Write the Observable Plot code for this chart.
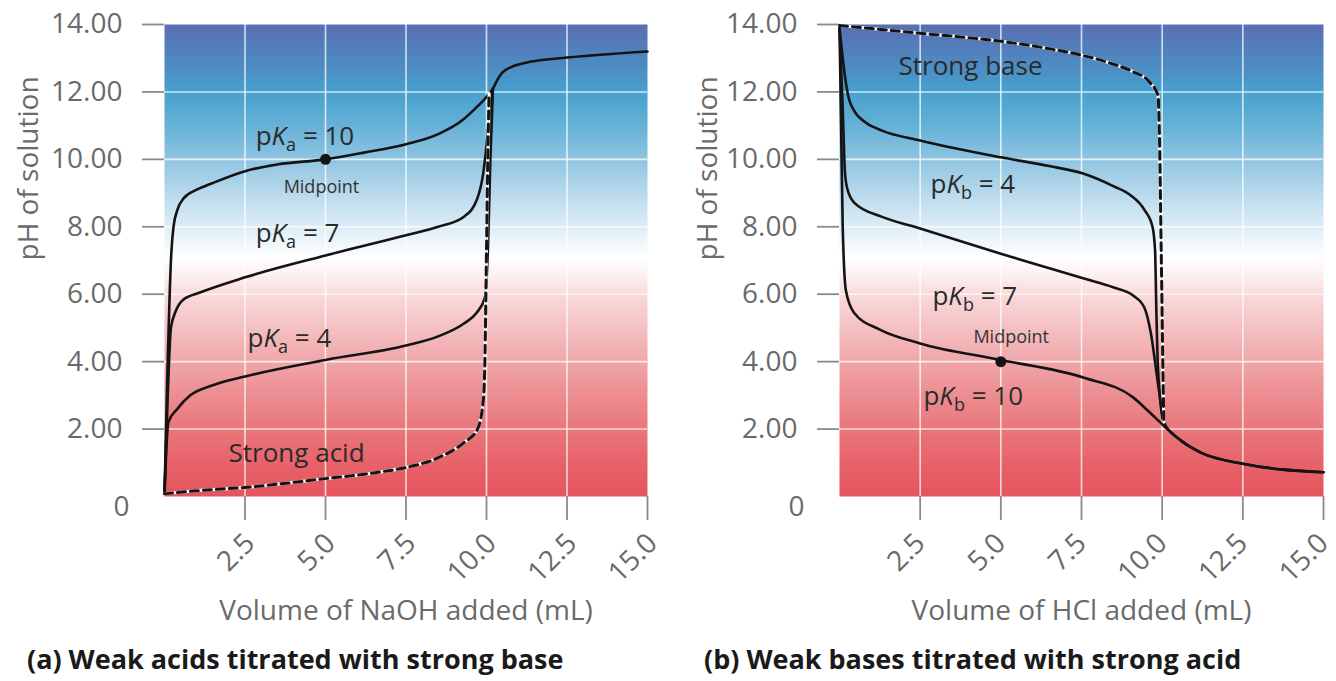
<!DOCTYPE html>
<html>
<head>
<meta charset="utf-8">
<script src="https://cdn.jsdelivr.net/npm/d3@7"></script>
<script src="https://cdn.jsdelivr.net/npm/@observablehq/plot@0.6"></script>
<style>
  html, body { margin: 0; padding: 0; background: #fff; }
  #wrap { position: relative; width: 1336px; height: 681px; overflow: hidden; font-family: "Open Sans", sans-serif; }
  .panel { position: absolute; top: 0; width: 668px; height: 681px; }
  .caption { position: absolute; top: 645px; font-weight: 700; font-size: 27px; line-height: 27px; color: #1a1a1a; white-space: nowrap; }
</style>
</head>
<body>
<div id="wrap">
  <div class="panel" id="panelA"><div class="caption" style="left:27px">(a) Weak acids titrated with strong base</div></div>
  <div class="panel" id="panelB" style="left:668px"><div class="caption" style="left:36px">(b) Weak bases titrated with strong acid</div></div>
</div>
<script>
// ---------- data ----------
const xTicks = [2.5, 5.0, 7.5, 10.0, 12.5, 15.0];
const yTicks = [2, 4, 6, 8, 10, 12, 14];
const originLabel = ["0"];

// background pH colour stops [pH, colour]
const bgStops = [
  [14, "#5a6db3"], [13, "#4f86c0"], [12, "#47a0cd"], [11, "#66b1d7"], [10, "#8fc4e1"],
  [9, "#b8d9ec"], [8, "#ddedf6"], [7.1, "#ffffff"], [6.6, "#fdf1f1"], [6, "#f9dadb"],
  [5, "#f4c0c2"], [4, "#f0a6a9"], [3, "#ec8d91"], [2, "#e9767b"], [1, "#e76369"], [0, "#e5545c"]
];

// (a) weak acids titrated with strong base: [mL NaOH, pH]
const acidPKa10 = [[0,0.1],[0.1,4],[0.2,7.0],[0.28,8.0],[0.4,8.5],[0.6,8.85],[1.0,9.1],[1.5,9.3],[2.5,9.65],[3.5,9.85],[5,10.0],[6.2,10.2],[7.5,10.45],[8.5,10.75],[9.3,11.2],[9.75,11.6],[10.0,11.85],[10.2,12.1],[10.35,12.38],[10.5,12.58],[10.8,12.75],[11.4,12.9],[12.5,13.02],[15,13.2]];
const acidPKa7  = [[0,0.1],[0.1,3.0],[0.2,5.0],[0.35,5.5],[0.6,5.85],[1.1,6.05],[2.5,6.5],[5,7.15],[7.5,7.75],[8.5,8.0],[9.3,8.3],[9.7,8.8],[9.9,9.6],[10.0,10.4],[10.1,11.4],[10.2,12.1]];
const acidPKa4  = [[0,0.1],[0.12,2.2],[0.4,2.6],[0.8,3.0],[1.5,3.3],[2.5,3.56],[5,4.05],[7.5,4.48],[8.5,4.75],[9.3,5.13],[9.7,5.46],[9.95,5.9],[10.05,7.5],[10.12,10],[10.2,12.1]];
const strongAcid = [[0,0.08],[1,0.17],[2.5,0.27],[5,0.53],[6.5,0.7],[7.5,0.86],[8.5,1.15],[9.3,1.6],[9.72,2.0],[9.9,2.85],[9.95,4.0],[10.0,7.3],[10.04,10],[10.08,11.95]];

// (b) weak bases titrated with strong acid: [mL HCl, pH]
const basePKb4  = [[0,13.9],[0.1,13.0],[0.15,12.6],[0.28,11.84],[0.45,11.45],[0.8,11.1],[1.3,10.86],[2.5,10.56],[5,10.06],[6.5,9.8],[7.55,9.58],[8.5,9.2],[9.0,8.95],[9.45,8.5],[9.7,8.0],[9.78,7.3],[9.82,5.5],[9.87,3.8],[10.05,2.2],[10.5,1.72],[11.2,1.3],[12.5,0.97],[15,0.72]];
const basePKb7  = [[0,13.9],[0.1,11.5],[0.17,9.6],[0.25,9.1],[0.47,8.7],[1.3,8.3],[2.5,7.95],[5,7.2],[7.55,6.47],[8.5,6.2],[9.1,5.96],[9.45,5.6],[9.65,4.84],[9.87,3.35],[10.05,2.17]];
const basePKb10 = [[0,13.9],[0.05,11],[0.1,8],[0.2,6.1],[0.45,5.45],[1.25,4.95],[2.5,4.54],[5,4.05],[7.55,3.53],[9.1,2.94],[9.65,2.46],[10.05,2.1],[10.5,1.72],[11.2,1.3],[12.5,0.97],[15,0.72]];
const strongBase = [[0,13.97],[1,13.88],[2.5,13.74],[5,13.5],[6.5,13.28],[7.55,13.08],[8.5,12.82],[9.1,12.6],[9.6,12.3],[9.87,11.9],[9.92,10.5],[9.97,7.3],[10.02,4],[10.05,2.2]];

// annotations [mL, pH, text]
const acidLabels = [[2.83,10.67,"pKa = 10"],[2.83,7.79,"pKa = 7"],[2.58,4.67,"pKa = 4"]];
const acidNotes  = [[1.99,1.26,"Strong acid"]];
const baseLabels = [[2.82,9.24,"pKb = 4"],[2.88,5.92,"pKb = 7"],[2.6,2.95,"pKb = 10"]];
const baseNotes  = [[1.83,12.74,"Strong base"]];
const acidMidpoint = [[5,10]];
const baseMidpoint = [[5,4.0]];
const acidMidText = [[3.7,9.17,"Midpoint"]];
const baseMidText = [[4.15,4.72,"Midpoint"]];

// ---------- drawing ----------
function gradientMark(id) {
  return (index, scales) => {
    const ns = "http://www.w3.org/2000/svg";
    const defs = document.createElementNS(ns, "defs");
    const lg = document.createElementNS(ns, "linearGradient");
    lg.setAttribute("id", id);
    lg.setAttribute("gradientUnits", "userSpaceOnUse");
    const y0 = scales.y(14), y1 = scales.y(0);
    lg.setAttribute("x1", 0); lg.setAttribute("x2", 0);
    lg.setAttribute("y1", y0); lg.setAttribute("y2", y1);
    for (const [ph, c] of bgStops) {
      const s = document.createElementNS(ns, "stop");
      s.setAttribute("offset", (scales.y(ph) - y0) / (y1 - y0));
      s.setAttribute("stop-color", c);
      lg.appendChild(s);
    }
    defs.appendChild(lg);
    return defs;
  };
}

const P = d => d[0], Q = d => d[1], T = d => d[2];

function panel({id, marginLeft, marginRight, solid, dashed, labels, notes, mid, midText, xLabel, yDx, tickDx}) {
  const svg = Plot.plot({
    width: 668, height: 640,
    marginLeft, marginRight, marginTop: 24, marginBottom: 144,
    x: {domain: [0, 15]},
    y: {domain: [0, 14]},
    style: {fontFamily: "'Open Sans', sans-serif", fontSize: "28px", background: "transparent", overflow: "visible"},
    marks: [
      gradientMark(id),
      Plot.frame({fill: `url(#${id})`, stroke: null}),
      Plot.gridX(xTicks.filter(d => d < 15), {stroke: "white", strokeOpacity: 0.75, strokeWidth: 1.6}),
      Plot.gridY(yTicks.filter(d => d < 14), {stroke: "white", strokeOpacity: 0.75, strokeWidth: 1.6}),
      Plot.axisX(xTicks, {tickSize: 24, tickFormat: () => "", label: null, stroke: "#8a8a8a", strokeWidth: 1.8}),
      Plot.axisX(xTicks, {tickSize: 0, tickPadding: 42, dx: tickDx, tickRotate: -45, tickFormat: d => d.toFixed(1), label: null, fill: "#6a6a6a"}),
      Plot.axisY(yTicks, {tickSize: 22, tickPadding: 20, tickFormat: d => d.toFixed(2), label: null, stroke: "#8a8a8a", strokeWidth: 1.8, fill: "#6a6a6a"}),
      Plot.text(originLabel, {x: () => 0, y: () => 0, text: d => d, dx: -43, dy: 11, fill: "#6a6a6a"}),
      Plot.text([xLabel], {frameAnchor: "bottom", dy: 123, text: d => d, fill: "#6a6a6a"}),
      Plot.text(["pH of solution"], {frameAnchor: "left", dx: yDx, rotate: -90, text: d => d, fill: "#6a6a6a"}),
      ...solid.map(s => Plot.line(s, {x: P, y: Q, stroke: "#141414", strokeWidth: 2.6, curve: "monotone-x"})),
      Plot.line(dashed, {x: P, y: Q, stroke: "white", strokeWidth: 3, curve: "monotone-x"}),
      Plot.line(dashed, {x: P, y: Q, stroke: "#141414", strokeWidth: 3, strokeDasharray: "8,5", curve: "monotone-x"}),
      Plot.dot(mid, {x: P, y: Q, r: 5.5, fill: "#141414"}),
      Plot.text(midText, {x: P, y: Q, text: T, textAnchor: "start", fontSize: 18, fill: "#333"}),
      Plot.text(notes, {x: P, y: Q, text: T, textAnchor: "start", fontSize: 26, fill: "#2a2a2a"}),
      Plot.text(labels, {x: P, y: Q, text: T, textAnchor: "start", fontSize: 26, fill: "#2a2a2a"})
    ]
  });
  // p K_a style: italic K, subscript letter
  d3.select(svg).selectAll("text").each(function () {
    if (this.querySelector("tspan")) return;
    const t = this.textContent;
    const m = t.match(/^p(K)([ab])( = \d+)$/);
    if (!m) return;
    const sel = d3.select(this);
    sel.text("");
    sel.append("tspan").text("p");
    sel.append("tspan").attr("font-style", "italic").text(m[1]);
    sel.append("tspan").attr("font-size", "18px").attr("dy", "0.3em").text(m[2]);
    sel.append("tspan").attr("dy", "-0.21em").text(m[3]);
  });
  return svg;
}

document.getElementById("panelA").prepend(panel({
  id: "gradA", marginLeft: 164, marginRight: 21,
  solid: [acidPKa10, acidPKa7, acidPKa4], dashed: strongAcid,
  labels: acidLabels, notes: acidNotes, mid: acidMidpoint, midText: acidMidText,
  xLabel: "Volume of NaOH added (mL)", yDx: -135, tickDx: 5
}));
document.getElementById("panelB").prepend(panel({
  id: "gradB", marginLeft: 171, marginRight: 13,
  solid: [basePKb4, basePKb7, basePKb10], dashed: strongBase,
  labels: baseLabels, notes: baseNotes, mid: baseMidpoint, midText: baseMidText,
  xLabel: "Volume of HCl added (mL)", yDx: -131, tickDx: 0
}));
</script>
</body>
</html>
